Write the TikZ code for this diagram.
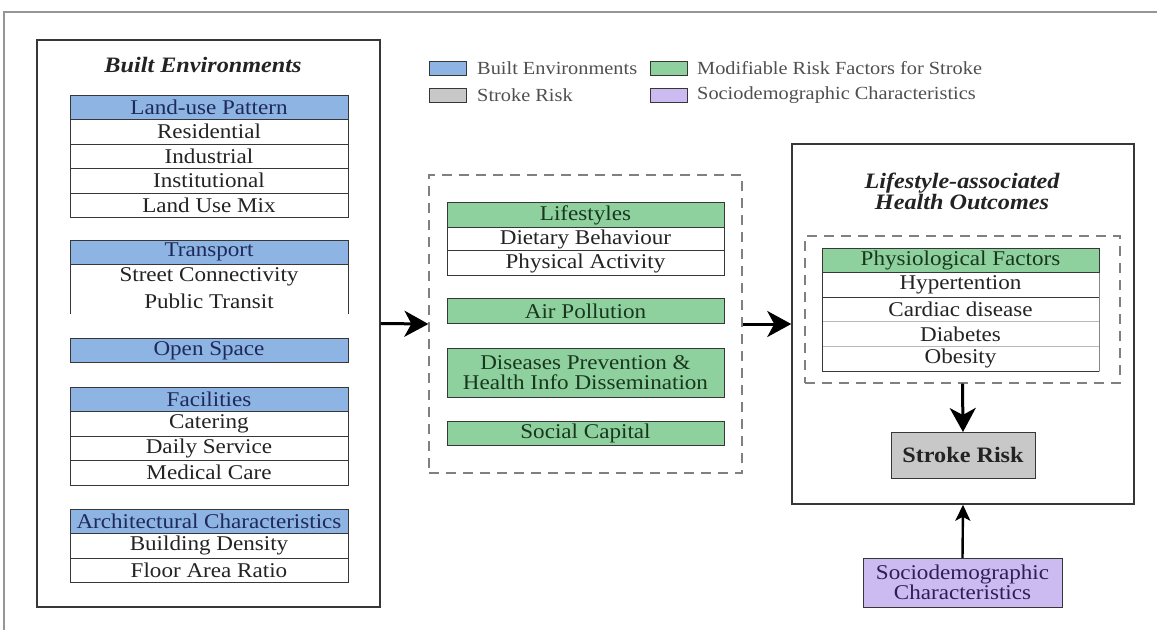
\documentclass[tikz,border=0pt]{standalone}
\usepackage{fontspec}
\setmainfont{Liberation Serif}[FakeStretch=1.1]
\usetikzlibrary{arrows.meta}
\definecolor{beblue}{RGB}{141,180,226}
\definecolor{mrfgreen}{RGB}{143,209,158}
\definecolor{srgray}{RGB}{200,200,200}
\definecolor{sdpurple}{RGB}{204,187,240}
\definecolor{navytext}{RGB}{30,42,90}
\definecolor{greentext}{RGB}{25,55,30}
\definecolor{purpletext}{RGB}{45,30,90}
\definecolor{rowtext}{RGB}{35,35,35}
\definecolor{linedark}{RGB}{55,55,55}
\definecolor{framegray}{RGB}{150,150,150}
\begin{document}
\begin{tikzpicture}[x=1pt,y=-1pt,
  cellbase/.style={minimum height=24.5pt, inner sep=0pt, outer sep=0pt,
    font=\fontsize{21}{20}\selectfont, draw=linedark, line width=0.9pt},
  behdr/.style={cellbase, fill=beblue, text=navytext, minimum width=278pt},
  berow/.style={cellbase, fill=white, text=rowtext, minimum width=278pt},
  mrfhdr/.style={cellbase, fill=mrfgreen, text=greentext, minimum width=277pt},
  mrfrow/.style={cellbase, fill=white, text=rowtext, minimum width=277pt},
  outerbox/.style={draw=linedark, line width=1.5pt, inner sep=0pt},
  dashbox/.style={draw=gray, line width=1.2pt, dash pattern=on 10pt off 7pt, inner sep=0pt},
  boxtitle/.style={font=\fontsize{22}{20}\selectfont\bfseries\itshape, text=rowtext, align=center},
  swatch/.style={draw=linedark, line width=0.8pt, minimum width=37pt, minimum height=14pt, inner sep=0pt},
  legtext/.style={anchor=west, inner sep=0pt, font=\fontsize{18.5}{20}\selectfont, text=rowtext!80},
  bigarrow/.style={line width=3pt, -{Stealth[length=24pt,width=26pt,inset=7pt]}},
  smallarrow/.style={line width=2.4pt, -{Stealth[length=16pt,width=15pt,inset=4pt]}}
]
\useasboundingbox (0,0) rectangle (1157,630);
% outer frame
\draw[framegray, line width=1.2pt] (4,630) -- (4,12) -- (1157,12);

% ---------- legend ----------
\node[swatch, fill=beblue] (lg1) at (447.5,68) {};
\node[legtext] (lt1) at (477,68) {Built Environments};
\node[swatch, fill=srgray] (lg2) at (447.5,95) {};
\node[legtext] (lt2) at (477,95) {Stroke Risk};
\node[swatch, fill=mrfgreen] (lg3) at (668.5,68) {};
\node[legtext] (lt3) at (697,68) {Modifiable Risk Factors for Stroke};
\node[swatch, fill=sdpurple] (lg4) at (668.5,95) {};
\node[legtext] (lt4) at (697,95) {Sociodemographic Characteristics};

% ---------- left box ----------
\node[outerbox, minimum width=343pt, minimum height=567pt] (left) at (208.5,323.5) {};
\node[boxtitle] (lefttitle) at (203,65) {Built Environments};

\node[berow] (res) at (209,131.75) {Residential};
\node[berow] (ind) at (209,156.25) {Industrial};
\node[berow] (ins) at (209,180.75) {Institutional};
\node[berow] (lum) at (209,205.25) {Land Use Mix};
\node[behdr] (lup) at (209,107.25) {Land-use Pattern};

\node[berow] (stc) at (209,276.75) {Street Connectivity};
\node[berow, draw=none] (pt) at (209,301.25) {Public Transit};
\draw[linedark, line width=0.9pt] (pt.north west) -- (pt.south west);
\draw[linedark, line width=0.9pt] (pt.north east) -- (pt.south east);
\node[behdr] (tra) at (209,252.25) {Transport};

\node[behdr] (ops) at (209,350.5) {Open Space};

\node[berow] (cat) at (209,423.75) {Catering};
\node[berow] (dse) at (209,448.25) {Daily Service};
\node[berow] (mca) at (209,472.75) {Medical Care};
\node[behdr] (fac) at (209,399.25) {Facilities};

\node[berow] (bde) at (209,545.75) {Building Density};
\node[berow] (far) at (209,570.25) {Floor Area Ratio};
\node[behdr] (arc) at (209,521.25) {Architectural Characteristics};

% ---------- middle box ----------
\node[dashbox, minimum width=313pt, minimum height=298pt] (mid) at (585.5,324) {};
\node[mrfrow] (die) at (585.5,239) {Dietary Behaviour};
\node[mrfrow] (phy) at (585.5,263) {Physical Activity};
\node[mrfhdr] (lif) at (585.5,215) {Lifestyles};
\node[mrfhdr] (air) at (585.5,311) {Air Pollution};
\node[mrfhdr, minimum height=49pt, align=center] (dis) at (585.5,372.5) {Diseases Prevention \&\\Health Info Dissemination};
\node[mrfhdr] (soc) at (585.5,433.5) {Social Capital};

% ---------- right box ----------
\node[outerbox, minimum width=342pt, minimum height=360pt] (right) at (963,324) {};
\node[boxtitle] (righttitle) at (962,191) {Lifestyle-associated\\Health Outcomes};
\node[dashbox, minimum width=315pt, minimum height=147pt] (inner) at (962.5,309.5) {};
\node[mrfrow] (hyp) at (960.5,285) {Hypertention};
\node[mrfrow, draw=linedark!35] (car) at (960.5,309.25) {Cardiac disease};
\node[mrfrow, draw=linedark!35] (dia) at (960.5,334) {Diabetes};
\node[mrfrow, draw=linedark!35] (obe) at (960.5,358.75) {Obesity};
\draw[linedark, line width=0.9pt] (hyp.south west) -- (hyp.south east);
\draw[linedark, line width=0.9pt] (hyp.north west) -- (obe.south west) -- (obe.south east);
\draw[linedark!60, line width=0.9pt] (hyp.north east) -- (obe.south east);
\node[mrfhdr] (phf) at (960.5,260.5) {Physiological Factors};

\node[cellbase, fill=srgray, minimum width=144pt, minimum height=46pt,
  font=\fontsize{22}{20}\selectfont\bfseries, text=rowtext] (sr) at (963,455) {Stroke Risk};

\node[cellbase, fill=sdpurple, minimum width=199pt, minimum height=49pt,
  text=purpletext, align=center] (sd) at (962.5,582.5) {Sociodemographic\\Characteristics};

% ---------- arrows ----------
\draw[bigarrow] (left.east) -- (mid.west);
\draw[bigarrow] (mid.east) -- (right.west);
\draw[bigarrow] (inner.south) -- (sr.north);
\draw[smallarrow] (sd.north) -- (right.south);
\end{tikzpicture}
\end{document}
